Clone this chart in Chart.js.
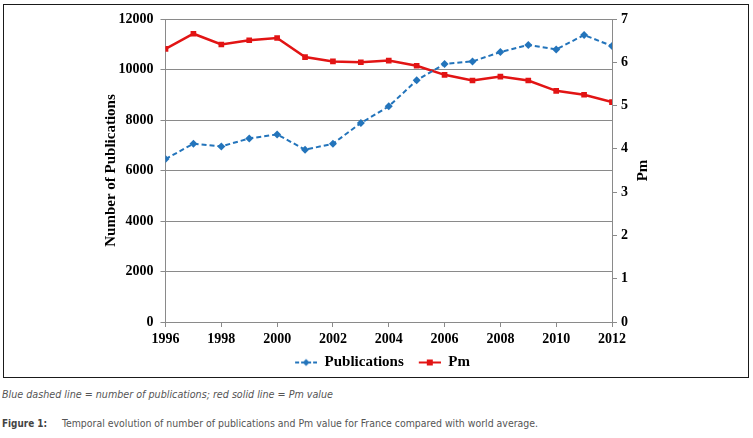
<!DOCTYPE html>
<html>
<head>
<meta charset="utf-8">
<script src="https://cdn.jsdelivr.net/npm/chart.js@4.4.1/dist/chart.umd.min.js"></script>
<style>
  html, body { margin: 0; padding: 0; background: #fff; }
  body { width: 753px; height: 438px; position: relative; overflow: hidden; }
  #wrap { position: absolute; left: 0; top: 0; width: 753px; height: 380px; }
  #frame { position: absolute; left: 3px; top: 4px; width: 744px; height: 372px;
           border: 1.5px solid #1a1a1a; pointer-events: none; }
  .cap { position: absolute; left: 2px; white-space: nowrap; color: #555;
         font-family: "DejaVu Sans Condensed", "Liberation Sans", sans-serif;
         font-stretch: condensed; font-size: 11px; line-height: 13px; transform-origin: 0 50%; }
  #note { top: 388px; font-style: italic; }
  #fig { top: 417px; }
  #fig b { color: #444; }
</style>
</head>
<body>
<div id="wrap"><canvas id="chart" width="753" height="380"></canvas></div>
<div id="frame"></div>
<div class="cap" id="note">Blue dashed line = number of publications; red solid line = Pm value</div>
<div class="cap" id="fig"><b id="figlabel">Figure 1:</b><span id="figtext">Temporal evolution of number of publications and Pm value for France compared with world average.</span></div>

<script>
// ===== DATA =====
const years = [1996, 1997, 1998, 1999, 2000, 2001, 2002, 2003, 2004,
               2005, 2006, 2007, 2008, 2009, 2010, 2011, 2012];
const publications = [6455, 7060, 6955, 7270, 7430, 6825, 7060, 7880, 8540,
                      9570, 10220, 10320, 10690, 10970, 10795, 11365, 10930];
const pm = [6.31, 6.66, 6.41, 6.51, 6.56, 6.12, 6.02, 6.00, 6.04,
            5.92, 5.71, 5.58, 5.67, 5.58, 5.34, 5.25, 5.08];

const BLUE = "#2374bb";
const RED = "#e21414";
const SERIF = "'Liberation Serif', 'Times New Roman', serif";
const GRID = "#8a8a8a";

// squeeze caption pieces to the narrow width of the printed figure
function squeeze(id, width){
  const el = document.getElementById(id);
  el.style.display = "inline-block";
  el.style.transformOrigin = "0 50%";
  const w = el.getBoundingClientRect().width;
  if(w > 0) el.style.transform = `scaleX(${width / w})`;
}
squeeze("note", 331);
squeeze("figlabel", 45);
squeeze("figtext", 476);
const txt = document.getElementById("figtext");
txt.style.position = "absolute"; txt.style.left = "60px"; txt.style.top = "0";

// legend samples: line with marker in the middle, left part kept empty as item gap
const SAMPLE_W = 34, GAP = 12;
function sample(color, dashed, marker){
  const c = document.createElement("canvas");
  c.width = SAMPLE_W; c.height = 10;
  const g = c.getContext("2d");
  const x0 = GAP, mid = GAP + (SAMPLE_W - GAP) / 2;
  g.strokeStyle = color; g.lineWidth = 2;
  if(dashed) g.setLineDash([4, 2]);
  g.beginPath(); g.moveTo(x0, 5); g.lineTo(SAMPLE_W, 5); g.stroke();
  g.setLineDash([]);
  g.fillStyle = color;
  if(marker === "rectRot"){
    g.beginPath(); g.moveTo(mid, 1.5); g.lineTo(mid + 3.5, 5); g.lineTo(mid, 8.5); g.lineTo(mid - 3.5, 5); g.closePath(); g.fill();
  } else {
    g.fillRect(mid - 3, 2, 6, 6);
  }
  return c;
}

// right axis title reads bottom-to-top like the left one
const rightTitle = {
  id: "rightTitle",
  afterDraw(chart){
    const {ctx, chartArea} = chart;
    ctx.save();
    ctx.translate(643, (chartArea.top + chartArea.bottom) / 2);
    ctx.rotate(-Math.PI / 2);
    ctx.font = "bold 15px " + SERIF;
    ctx.fillStyle = "#000";
    ctx.textAlign = "center";
    ctx.textBaseline = "middle";
    ctx.fillText("Pm", 0, 0);
    ctx.restore();
  }
};

const tickFont = { family: SERIF, size: 14, weight: "bold" };

new Chart(document.getElementById("chart"), {
  type: "line",
  data: {
    datasets: [
      {
        label: "Publications",
        data: years.map((y, i) => ({x: y, y: publications[i]})),
        yAxisID: "y",
        borderColor: BLUE,
        backgroundColor: BLUE,
        borderWidth: 2,
        borderDash: [5, 3],
        pointStyle: "rectRot",
        pointRadius: 4,
        pointBorderWidth: 0,
        tension: 0
      },
      {
        label: "Pm",
        data: years.map((y, i) => ({x: y, y: pm[i]})),
        yAxisID: "y1",
        borderColor: RED,
        backgroundColor: RED,
        borderWidth: 2.5,
        pointStyle: "rect",
        pointRadius: 4,
        pointBorderWidth: 0,
        tension: 0
      }
    ]
  },
  options: {
    responsive: false,
    animation: false,
    devicePixelRatio: 1,
    layout: { padding: { top: 19, bottom: 0, left: 0, right: 0 } },
    plugins: {
      tooltip: { enabled: false },
      legend: {
        position: "bottom",
        labels: {
          color: "#000",
          font: { family: SERIF, size: 15, weight: "bold" },
          usePointStyle: true,
          pointStyleWidth: SAMPLE_W,
          padding: 3,
          generateLabels: (chart) => chart.data.datasets.map((ds, i) => ({
            text: ds.label,
            datasetIndex: i,
            fontColor: "#000",
            pointStyle: sample(ds.borderColor, i === 0, ds.pointStyle),
            lineWidth: 0,
            strokeStyle: "transparent",
            fillStyle: "transparent"
          }))
        }
      }
    },
    scales: {
      x: {
        type: "linear",
        min: 1996, max: 2012,
        ticks: { stepSize: 2, color: "#000", font: tickFont, padding: 4,
                 callback: v => String(v) },
        grid: { drawOnChartArea: false, drawTicks: true, tickLength: 5, color: GRID },
        border: { color: GRID, width: 1 },
        afterFit: s => { s.height = 30; }
      },
      y: {
        position: "left",
        min: 0, max: 12000,
        ticks: { stepSize: 2000, color: "#000", font: tickFont, padding: 7,
                 callback: v => String(v) },
        grid: { color: GRID, tickLength: 5 },
        border: { color: GRID, width: 1 },
        title: { display: true, text: "Number of Publications", color: "#000",
                 font: { family: SERIF, size: 15, weight: "bold" },
                 padding: { top: 102, bottom: 0 } },
        afterFit: s => { s.width = 165.5; }
      },
      y1: {
        position: "right",
        min: 0, max: 7,
        ticks: { stepSize: 1, color: "#000", font: tickFont, padding: 4 },
        grid: { drawOnChartArea: false, tickLength: 5, color: GRID },
        border: { color: GRID, width: 1 },
        afterFit: s => { s.width = 141; }
      }
    }
  },
  plugins: [rightTitle]
});
</script>
</body>
</html>
